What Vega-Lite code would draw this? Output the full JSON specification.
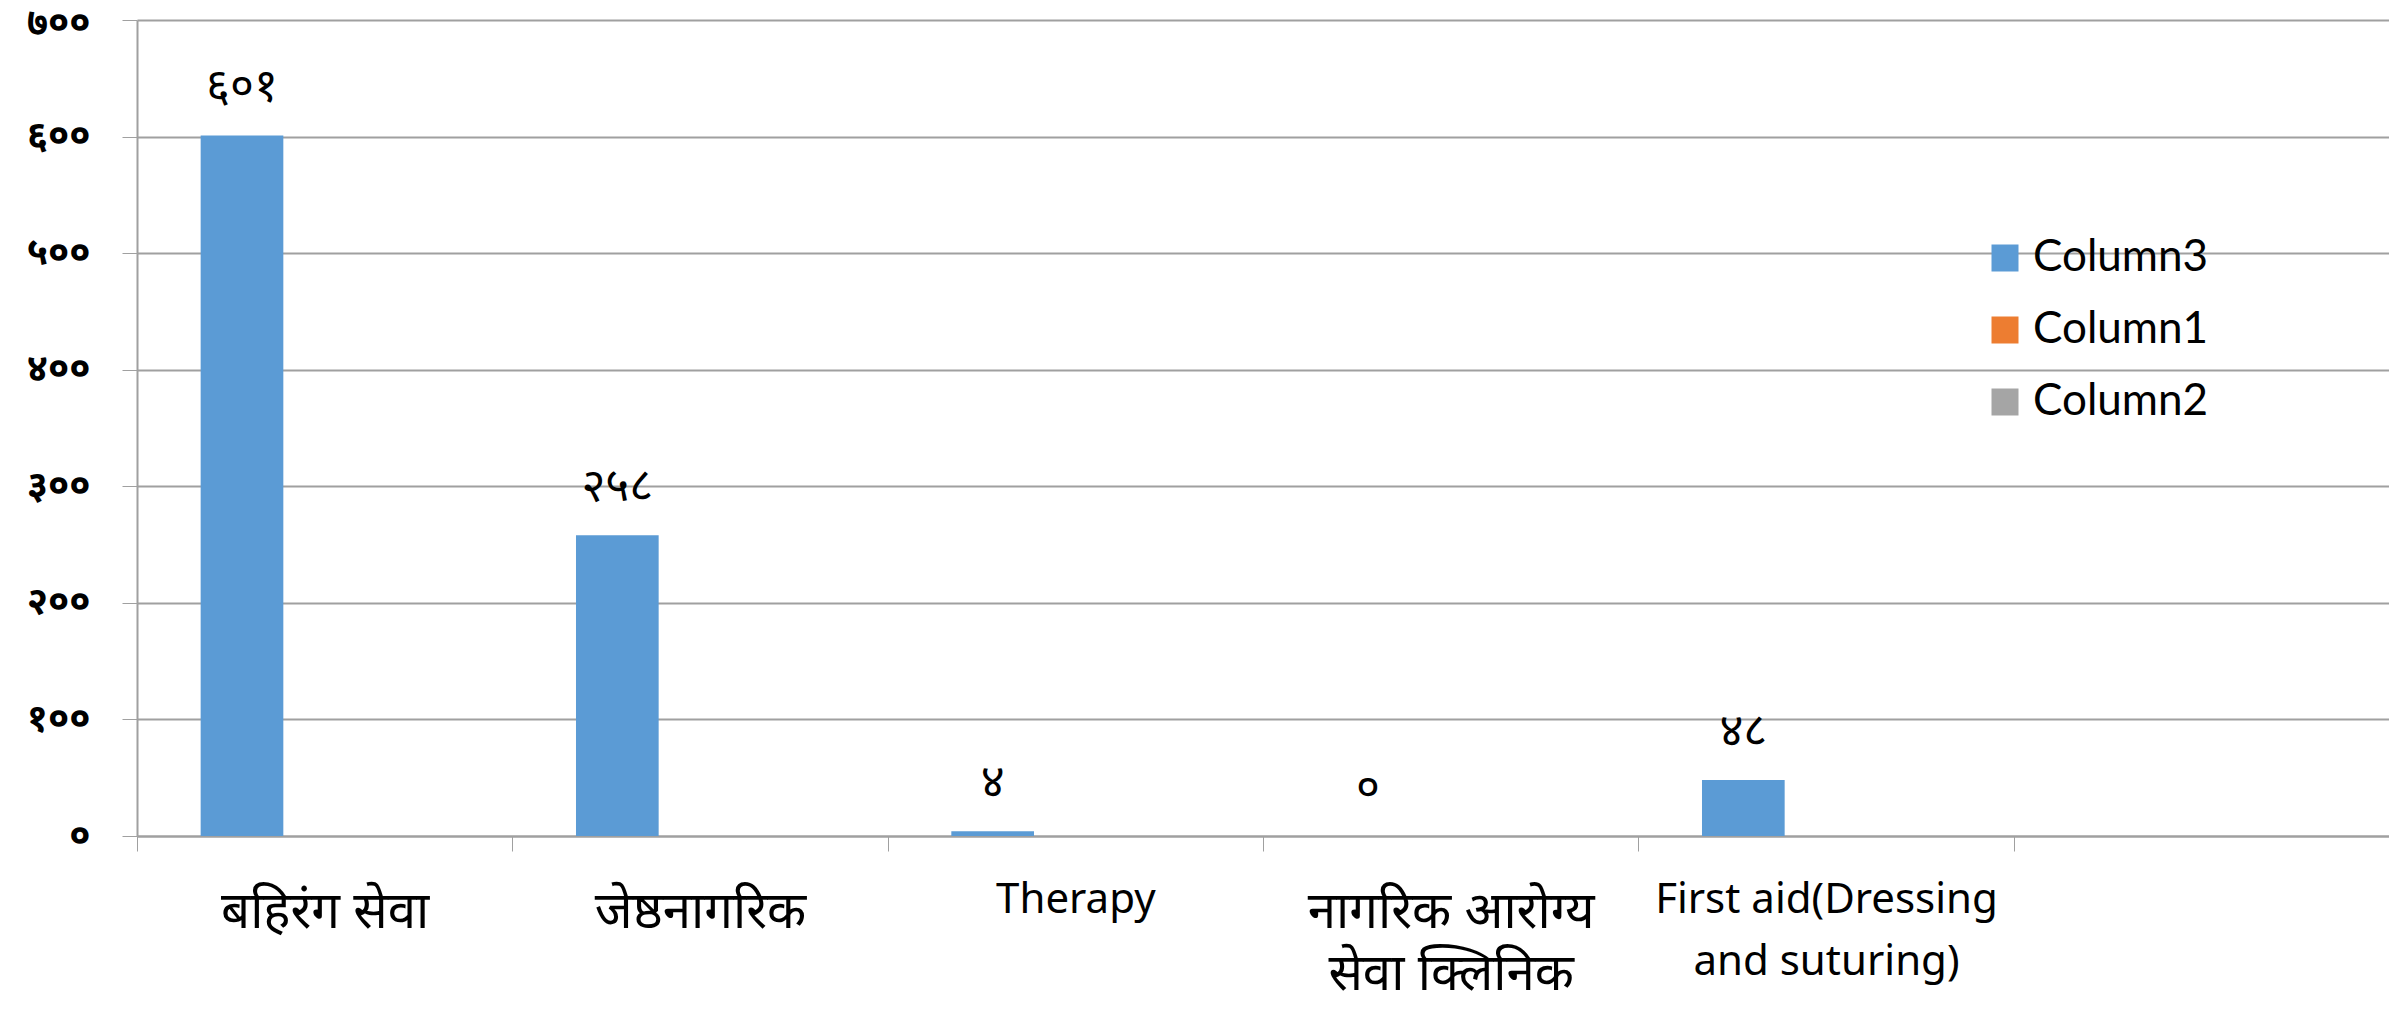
{
  "$schema": "https://vega.github.io/schema/vega-lite/v6.json",
  "width": 2252,
  "height": 816,
  "autosize": {"type": "none"},
  "padding": {"left": 137, "top": 20, "right": 0, "bottom": 178},
  "background": "white",
  "config": {"view": {"stroke": null}},
  "data": {
    "values": [
      {"category": "बहिरंग सेवा", "series": "Column3", "value": 601, "label": "६०१"},
      {"category": "जेष्ठनागरिक", "series": "Column3", "value": 258, "label": "२५८"},
      {"category": "Therapy", "series": "Column3", "value": 4, "label": "४"},
      {"category": "नागरिक आरोग्य सेवा क्लिनिक", "series": "Column3", "value": 0, "label": "०"},
      {"category": "First aid(Dressing and suturing)", "series": "Column3", "value": 48, "label": "४८"}
    ]
  },
  "encoding": {
    "x": {
      "field": "category",
      "type": "nominal",
      "sort": null,
      "title": null,
      "scale": {
        "domain": ["बहिरंग सेवा", "जेष्ठनागरिक", "Therapy", "नागरिक आरोग्य सेवा क्लिनिक", "First aid(Dressing and suturing)", "blank"],
        "paddingInner": 0,
        "paddingOuter": 0
      },
      "axis": {
        "labelAngle": 0,
        "tickBand": "extent",
        "tickSize": 15,
        "tickColor": "#a0a0a0",
        "domainColor": "#a0a0a0",
        "domainWidth": 2,
        "grid": false,
        "labelPadding": {"condition": {"test": "datum.value == 'Therapy' || datum.value == 'First aid(Dressing and suturing)'", "value": 28}, "value": 36},
        "labelColor": "black",
        "labelFont": {"condition": {"test": "datum.value == 'Therapy' || datum.value == 'First aid(Dressing and suturing)'", "value": "Noto Sans, sans-serif"}, "value": "Noto Sans Devanagari, Noto Sans, sans-serif"},
        "labelFontSize": {"condition": {"test": "datum.value == 'Therapy' || datum.value == 'First aid(Dressing and suturing)'", "value": 42}, "value": 51},
        "labelLineHeight": 62,
        "labelLimit": 500,
        "labelExpr": "datum.value == 'blank' ? '' : datum.value == 'नागरिक आरोग्य सेवा क्लिनिक' ? ['नागरिक आरोग्य', 'सेवा क्लिनिक'] : datum.value == 'First aid(Dressing and suturing)' ? ['First aid(Dressing', 'and suturing)'] : datum.value"
      }
    },
    "xOffset": {
      "field": "series",
      "scale": {"domain": ["Column3", "Column1", "Column2"], "paddingInner": 0, "paddingOuter": 0.77}
    },
    "y": {
      "field": "value",
      "type": "quantitative",
      "title": null,
      "scale": {"domain": [0, 700], "nice": false},
      "axis": {
        "values": [0, 100, 200, 300, 400, 500, 600, 700],
        "tickSize": 15,
        "tickColor": "#a0a0a0",
        "domainColor": "#a0a0a0",
        "domainWidth": 2,
        "gridColor": "#a0a0a0",
        "gridWidth": 2,
        "labelPadding": 32,
        "labelColor": "black",
        "labelFont": "Noto Sans Devanagari, Noto Sans, sans-serif",
        "labelFontSize": 38,
        "labelFontWeight": "bold",
        "labelOffset": {"condition": {"test": "datum.value == 700", "value": 3}, "value": 0},
        "labelExpr": "datum.value == 0 ? '०' : datum.value == 100 ? '१००' : datum.value == 200 ? '२००' : datum.value == 300 ? '३००' : datum.value == 400 ? '४००' : datum.value == 500 ? '५००' : datum.value == 600 ? '६००' : '७००'"
      }
    }
  },
  "layer": [
    {
      "mark": {"type": "bar"},
      "encoding": {
        "color": {
          "field": "series",
          "type": "nominal",
          "scale": {"domain": ["Column3", "Column1", "Column2"], "range": ["#5B9BD5", "#ED7D31", "#A5A5A5"]},
          "legend": {
            "title": null,
            "orient": "none",
            "legendX": 1846,
            "legendY": 216,
            "symbolType": "square",
            "symbolSize": 729,
            "symbolStrokeWidth": 0,
            "labelFont": "Lato",
            "labelFontSize": 44,
            "labelColor": "black",
            "labelOffset": 6,
            "labelLimit": 500,
            "rowPadding": 28
          }
        }
      }
    },
    {
      "mark": {"type": "text", "dy": -48, "fontSize": 46, "font": "Noto Sans Devanagari, Noto Sans, sans-serif", "color": "black", "baseline": "middle"},
      "encoding": {"text": {"field": "label"}}
    }
  ]
}
